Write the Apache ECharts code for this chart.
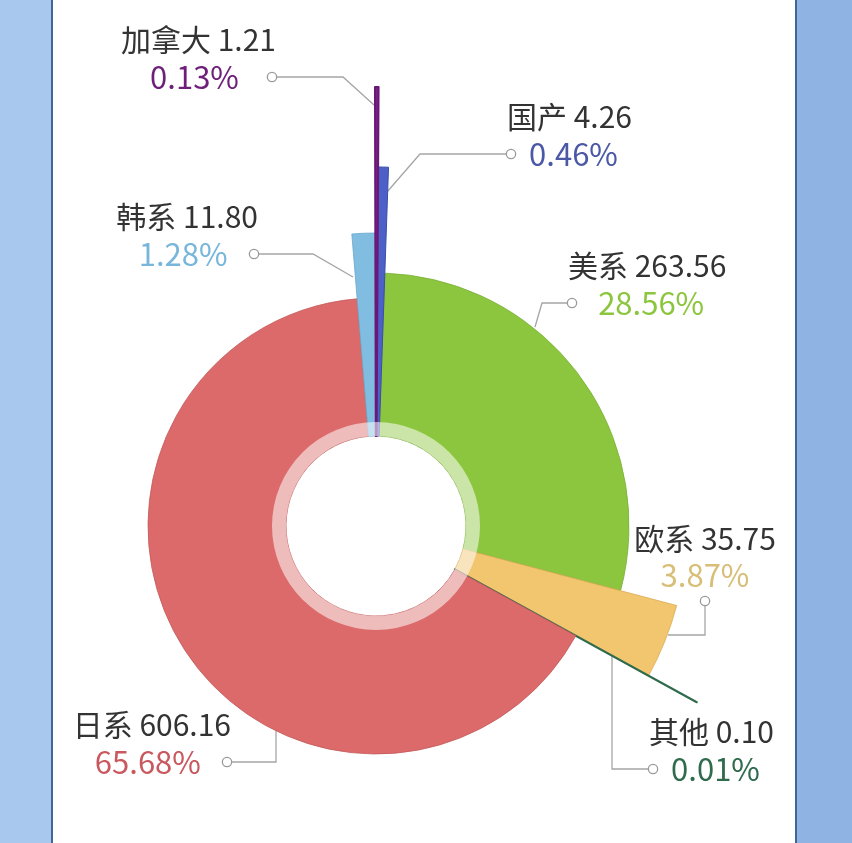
<!DOCTYPE html>
<html lang="zh">
<head>
    <meta charset="UTF-8">
    <meta name="viewport" content="width=device-width, initial-scale=1.0">
    <title>车系占比</title>
    <script src="https://cdn.jsdelivr.net/npm/echarts@6/dist/echarts.min.js"></script>
    <style>
        html, body { margin: 0; padding: 0; background: #fff; }
        .side-l { position: absolute; left: 0; top: 0; width: 51px; height: 843px; background: #a9c8ee; border-right: 2px solid #3f6793; }
        .side-r { position: absolute; left: 795px; top: 0; width: 57px; height: 843px; background: #8fb3e3; border-left: 2px solid #3f6793; }
        #pie_show { position: absolute; left: 0; top: 0; width: 852px; height: 843px; }
    </style>
</head>
<body>
    <div class="side-l"></div>
    <div class="side-r"></div>
    <div id="pie_show"></div>
    <script>
        // data, clockwise from the top
        var names = ['美系', '欧系', '其他', '日系', '韩系', '加拿大', '国产'];
        var values = [263.56, 35.75, 0.10, 606.16, 11.80, 1.21, 4.26];

        // look of each slice
        var sliceColors = ['#8cc63e', '#f2c66e', '#2f6b4c', '#dc6a6a', '#80bde0', '#7b1f88', '#4c60c8'];
        var edgeColors = ['#7aae36', '#d9ab55', '#2f6b4c', '#c45a5a', '#6aa8cc', '#6a1877', '#3a4da8'];
        var pctColors = ['#8cc63e', '#d9be78', '#2f6b4c', '#c9585f', '#78b6dc', '#6e1f7a', '#4a58a6'];
        var outerR = [253, 311, 366, 228, 293, 439, 359];
        var edgeW = [0.8, 0.8, 2, 0.8, 0.8, 2, 1];

        var center = [376, 526];
        var innerR = 90;

        // leader lines: start, bend, end (where the little circle sits)
        // side = which side of the circle the text goes
        var guides = [
            { pts: [[535, 327], [542, 303], [568, 303]], side: 'right' },
            { pts: [[668, 635], [705, 635], [705, 605]], side: 'top' },
            { pts: [[612, 653], [612, 769], [649, 769]], side: 'right' },
            { pts: [[276, 730], [276, 762], [231, 762]], side: 'left' },
            { pts: [[353, 277], [313, 254], [258, 254]], side: 'left' },
            { pts: [[374, 105], [343, 77], [276, 77]], side: 'left' },
            { pts: [[387, 192], [420, 154], [507, 154]], side: 'right' }
        ];

        var total = values.reduce(function (a, b) { return a + b; }, 0);
        var font = '"Noto Sans CJK SC", "Noto Sans", sans-serif';
        var lh = 37;

        var oPie = echarts.init(document.getElementById('pie_show'));

        var series = names.map(function (nm, i) {
            var g = guides[i];
            // text on the left -> block is right aligned, dot at its right end
            var textAlign = g.side === 'left' ? 'right' : (g.side === 'right' ? 'left' : 'center');
            return {
                type: 'pie',
                center: center,
                radius: [innerR, outerR[i]],
                startAngle: 88,
                clockwise: true,
                avoidLabelOverlap: false,
                silent: true,
                animation: false,
                emphasis: { disabled: true },
                z: i === 5 ? 4 : 2,
                label: {
                    show: true,
                    position: 'outside',
                    fontFamily: font,
                    distanceToLabelLine: 0,
                    formatter: function (p) {
                        var pct = (p.value / total * 100).toFixed(2) + '%';
                        var line1 = '{n|' + p.name + ' ' + p.value.toFixed(2) + '}';
                        if (g.side === 'left') return line1 + '\n{p|' + pct + '}{dot|}';
                        if (g.side === 'right') return line1 + '\n{dot|}{p|' + pct + '}';
                        return line1 + '\n{p|' + pct + '}\n{dot2|}';
                    },
                    rich: {
                        n: { fontSize: 30, lineHeight: lh, color: '#333', align: 'center', fontFamily: font },
                        p: { fontSize: 31, lineHeight: lh, color: pctColors[i], align: 'center', fontFamily: font },
                        dot: { width: 8, height: 8, borderRadius: 5, borderWidth: 1.3, borderColor: '#9a9a9a', backgroundColor: '#fff', align: textAlign, lineHeight: lh },
                        dot2: { width: 8, height: 8, borderRadius: 5, borderWidth: 1.3, borderColor: '#9a9a9a', backgroundColor: '#fff', align: 'center', lineHeight: 14 }
                    }
                },
                labelLine: {
                    show: true,
                    length: 10,
                    length2: 10,
                    lineStyle: { color: '#a5a5a5', width: 1.3 }
                },
                labelLayout: function (params) {
                    if (params.dataIndex !== i) return {};
                    var end = g.pts[2];
                    if (g.side === 'top') {
                        return { x: end[0], y: end[1] + 3, align: 'center', verticalAlign: 'bottom', labelLinePoints: g.pts };
                    }
                    return {
                        x: end[0],
                        y: end[1] - lh * 1.5,
                        align: textAlign,
                        verticalAlign: 'top',
                        labelLinePoints: g.pts
                    };
                },
                data: names.map(function (n, j) {
                    if (j !== i) {
                        return {
                            name: n, value: values[j],
                            itemStyle: { color: 'rgba(0,0,0,0)', borderWidth: 0 },
                            label: { show: false },
                            labelLine: { show: false }
                        };
                    }
                    return {
                        name: n, value: values[j],
                        itemStyle: { color: sliceColors[j], borderColor: edgeColors[j], borderWidth: edgeW[j] }
                    };
                })
            };
        });

        // pale ring around the hole
        series.push({
            type: 'pie',
            center: center,
            radius: [innerR, innerR + 14],
            silent: true,
            animation: false,
            z: 6,
            label: { show: false },
            labelLine: { show: false },
            emphasis: { disabled: true },
            data: [{ value: 1, itemStyle: { color: 'rgba(255,255,255,0.55)', borderWidth: 0 } }]
        });

        oPie.setOption({ series: series });
    </script>
</body>
</html>
